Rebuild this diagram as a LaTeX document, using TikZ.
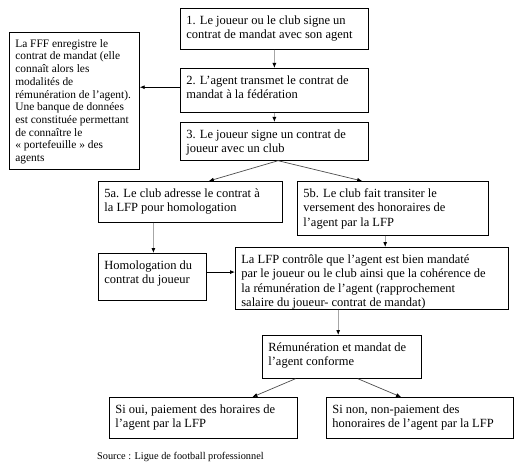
\documentclass[tikz,border=0pt]{standalone}
\usepackage{fontspec}
\setmainfont{Liberation Serif}
\usetikzlibrary{arrows.meta,calc}
\newcommand\boxtxt[3]{\vbox to \dimexpr#2pt-12pt\relax{\hbox to \dimexpr#1pt-12pt\relax{\begin{tabular}[t]{@{}l@{}}#3\end{tabular}\hss}\vss}}
\begin{document}
\begin{tikzpicture}[x=1pt,y=-1pt,
  box/.style={draw, line width=0.7pt, inner sep=0pt, anchor=north west, font=\fontsize{12.5}{14.4}\selectfont},
  smallbox/.style={box, font=\fontsize{11.4}{12.7}\selectfont},
  garr/.style={draw=gray!70, line width=0.8pt, -{Latex[length=5pt,width=4pt,color=black]}},
  barr/.style={draw=black, line width=0.8pt, -{Latex[length=5pt,width=4pt,color=black]}},
  darr/.style={draw=black!70, line width=0.7pt, -{Latex[length=5pt,width=4pt,color=black]}}]
\useasboundingbox (0,0) rectangle (532,473);
\node[box, minimum width=188pt, minimum height=41pt] (b1) at (180,8)
  {\boxtxt{188}{41}{1. Le joueur ou le club signe un\\contrat de mandat avec son agent}};
\node[smallbox, minimum width=130pt, minimum height=137pt] (fff) at (9,32)
  {\boxtxt{130}{137}{La FFF enregistre le\\contrat de mandat (elle\\connaît alors les\\modalités de\\rémunération de l’agent).\\Une banque de données\\est constituée permettant\\de connaître le\\« portefeuille » des\\agents}};
\node[box, minimum width=188pt, minimum height=44pt] (b2) at (180,68)
  {\boxtxt{188}{44}{2. L’agent transmet le contrat de\\mandat à la fédération}};
\node[box, minimum width=188pt, minimum height=38pt] (b3) at (180,122)
  {\boxtxt{188}{38}{3. Le joueur signe un contrat de\\joueur avec un club}};
\node[box, minimum width=184pt, minimum height=41pt] (b5a) at (98,181)
  {\boxtxt{184}{41}{5a. Le club adresse le contrat à\\la LFP pour homologation}};
\node[box, minimum width=191pt, minimum height=54pt] (b5b) at (297,181)
  {\boxtxt{191}{54}{5b. Le club fait transiter le\\versement des honoraires de\\l’agent par la LFP}};
\node[box, minimum width=108pt, minimum height=47pt] (hom) at (98,253)
  {\boxtxt{108}{47}{Homologation du\\contrat du joueur}};
\node[box, minimum width=273pt, minimum height=62pt] (lfp) at (235,247)
  {\boxtxt{273}{62}{La LFP contrôle que l’agent est bien mandaté\\par le joueur ou le club ainsi que la cohérence de\\la rémunération de l’agent (rapprochement\\salaire du joueur- contrat de mandat)}};
\node[box, minimum width=159pt, minimum height=43pt] (rem) at (262,335)
  {\boxtxt{159}{43}{Rémunération et mandat de\\l’agent conforme}};
\node[box, minimum width=188pt, minimum height=41pt] (oui) at (109,397)
  {\boxtxt{188}{41}{Si oui, paiement des horaires de\\l’agent par la LFP}};
\node[box, minimum width=187pt, minimum height=41pt] (non) at (326,397)
  {\boxtxt{187}{41}{Si non, non-paiement des\\honoraires de l’agent par la LFP}};
\node[anchor=west, inner sep=0pt, font=\fontsize{10.3}{12}\selectfont] (src) at (97,457)
  {Source : Ligue de football professionnel};
% connectors
\draw[garr] (b1.south) -- (b2.north);
\draw[garr] (b2.south) -- (b3.north);
\coordinate (w2) at ($(b2.north west)!0.43!(b2.south west)$);
\draw[barr] (w2) -- (w2 -| fff.east);
\coordinate (s3) at ($(b3.south west)!0.52!(b3.south east)$);
\draw[darr] (s3) -- ($(b5a.north west)!0.6!(b5a.north east)$);
\draw[darr] (s3) -- ($(b5b.north west)!0.34!(b5b.north east)$);
\coordinate (s5a) at ($(b5a.south west)!0.3!(b5a.south east)$);
\draw[garr] (s5a) -- (s5a |- hom.north);
\coordinate (s5b) at ($(b5b.south west)!0.46!(b5b.south east)$);
\draw[garr] (s5b) -- (s5b |- lfp.north);
\coordinate (eh) at ($(hom.north east)!0.4!(hom.south east)$);
\draw[barr] (eh) -- (eh -| lfp.west);
\coordinate (sl) at ($(lfp.south west)!0.377!(lfp.south east)$);
\draw[garr] (sl) -- (sl |- rem.north);
\draw[darr] ($(rem.south west)!0.21!(rem.south east)$) -- ($(oui.north west)!0.76!(oui.north east)$);
\draw[darr] ($(rem.south west)!0.6!(rem.south east)$) -- ($(non.north west)!0.4!(non.north east)$);
\end{tikzpicture}
\end{document}
